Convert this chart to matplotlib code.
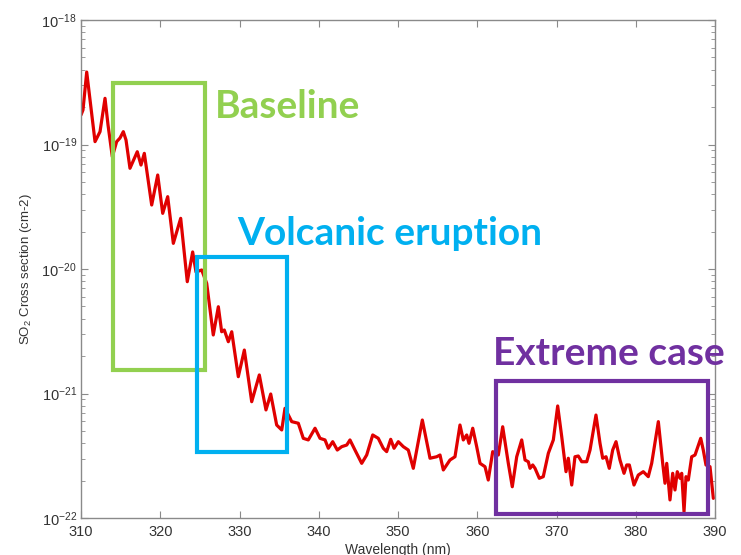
import numpy as np
import matplotlib.pyplot as plt
from matplotlib.patches import Rectangle
from matplotlib.ticker import LogLocator, FixedLocator

plt.rcParams['font.family'] = ['Liberation Sans', 'DejaVu Sans']
plt.rcParams['mathtext.default'] = 'regular'

# SO2 absorption cross section, wavelength (nm) and log10(sigma)
wavelength = [
    310.00, 310.25, 310.72, 311.14, 311.77, 312.40, 313.03, 313.41, 313.95, 314.50,
    314.92, 315.34, 315.68, 316.18, 317.10, 317.57, 317.99, 318.92, 319.68, 320.31,
    320.94, 321.65, 322.58, 323.41, 324.09, 324.51, 325.23, 325.86, 326.69, 327.33,
    327.75, 328.08, 328.59, 329.02, 329.85, 330.61, 331.54, 332.50, 333.34, 333.94,
    334.69, 335.33, 335.74, 336.59, 337.42, 338.05, 338.68, 339.53, 340.16, 340.79,
    341.21, 341.76, 342.34, 342.90, 343.53, 343.94, 344.57, 345.42, 346.05, 346.81,
    347.51, 348.14, 348.57, 349.08, 349.50, 350.04, 350.67, 351.30, 351.93, 353.07,
    354.04, 354.88, 355.30, 355.72, 356.56, 357.19, 357.82, 358.24, 358.67, 358.96,
    359.43, 359.93, 360.35, 360.98, 361.39, 361.95, 362.66, 363.21, 363.92, 364.42,
    364.98, 365.61, 366.03, 366.44, 366.66, 367.00, 367.29, 367.83, 368.33, 368.97,
    369.60, 370.15, 370.66, 371.20, 371.49, 371.92, 372.33, 372.75, 373.18, 373.81,
    374.23, 374.98, 375.49, 375.83, 376.25, 376.66, 377.09, 377.51, 378.01, 378.52,
    378.86, 379.19, 379.78, 380.32, 380.95, 381.58, 382.01, 382.85, 383.40, 383.69,
    383.91, 384.32, 384.66, 384.95, 385.24, 385.58, 385.80, 386.09, 386.34, 386.63,
    387.06, 387.48, 388.20, 388.52, 388.86, 389.37, 389.79,
]
log_sigma = [
    -18.763, -18.723, -18.418, -18.643, -18.977, -18.897, -18.629, -18.843, -19.098, -18.977,
    -18.948, -18.897, -18.964, -19.191, -19.058, -19.165, -19.071, -19.486, -19.245, -19.553,
    -19.419, -19.794, -19.593, -20.102, -19.863, -20.024, -20.008, -20.115, -20.530, -20.303,
    -20.504, -20.490, -20.584, -20.504, -20.865, -20.651, -21.066, -20.851, -21.132, -21.004,
    -21.253, -21.293, -21.119, -21.226, -21.239, -21.360, -21.373, -21.279, -21.360, -21.373,
    -21.440, -21.387, -21.454, -21.427, -21.414, -21.373, -21.454, -21.561, -21.494, -21.333,
    -21.360, -21.440, -21.467, -21.368, -21.440, -21.387, -21.427, -21.454, -21.601, -21.213,
    -21.520, -21.508, -21.494, -21.614, -21.534, -21.508, -21.253, -21.373, -21.333, -21.400,
    -21.279, -21.427, -21.561, -21.588, -21.695, -21.467, -21.494, -21.267, -21.561, -21.749,
    -21.508, -21.373, -21.534, -21.548, -21.601, -21.574, -21.601, -21.681, -21.668, -21.480,
    -21.373, -21.100, -21.347, -21.628, -21.520, -21.735, -21.508, -21.502, -21.548, -21.548,
    -21.454, -21.173, -21.400, -21.520, -21.508, -21.601, -21.454, -21.387, -21.534, -21.641,
    -21.574, -21.574, -21.735, -21.655, -21.628, -21.668, -21.561, -21.226, -21.561, -21.721,
    -21.561, -21.855, -21.641, -21.775, -21.628, -21.681, -21.641, -21.949, -21.668, -21.695,
    -21.508, -21.494, -21.360, -21.454, -21.574, -21.588, -21.842,
]

x_ticks = [310, 320, 330, 340, 350, 360, 370, 380, 390]

# highlighted regions: (label, colour, x0, x1, log y0, log y1)
regions = [
    ('Baseline', '#92D050', 314.08, 325.65, -20.811, -18.504),
    ('Volcanic eruption', '#00B0F0', 324.68, 336.03, -21.467, -19.901),
    ('Extreme case', '#7030A0', 362.37, 389.15, -21.968, -20.897),
]

fig = plt.figure(figsize=(7.41, 5.55), dpi=100)
ax = fig.add_axes([81 / 741, 1 - 518 / 555, 634 / 741, 498 / 555])

sigma = 10.0 ** np.array(log_sigma)
ax.plot(wavelength, sigma, color='#e00000', lw=2.3,
        solid_joinstyle='round', solid_capstyle='round')

ax.set_yscale('log')
ax.set_xlim(310, 390)
ax.set_ylim(1e-22, 1e-18)
ax.xaxis.set_major_locator(FixedLocator(x_ticks))
ax.yaxis.set_major_locator(LogLocator(base=10, numticks=10))
ax.yaxis.set_minor_locator(LogLocator(base=10, subs=np.arange(2, 10), numticks=20))

axis_gray = '#8a8a8a'
for sp in ax.spines.values():
    sp.set_color(axis_gray)
    sp.set_linewidth(1.0)
ax.tick_params(which='both', direction='in', top=True, right=True,
               color=axis_gray, labelcolor='#333333', labelsize=10.5)
ax.tick_params(which='major', length=5, pad=5)
ax.tick_params(axis='y', which='major', pad=3)
ax.tick_params(which='minor', length=3)

ax.set_xlabel('Wavelength (nm)', fontsize=10, color='#333333', labelpad=3)
ax.set_ylabel('SO$_2$ Cross section (cm-2)', fontsize=9.5, color='#333333')
ax.yaxis.set_label_coords(-0.074, 0.5)

text_pos = [(215, 118), (237, 245), (493, 365)]
for (label, col, x0, x1, y0, y1), (tx, ty) in zip(regions, text_pos):
    ax.add_patch(Rectangle((x0, 10 ** y0), x1 - x0, 10 ** y1 - 10 ** y0,
                           fill=False, edgecolor=col, lw=3.0, joinstyle='miter',
                           clip_on=False, zorder=5))
    fig.text(tx / 741, 1 - ty / 555, label, color=col, fontsize=28,
             fontweight='bold', family=['Lato', 'DejaVu Sans'],
             ha='left', va='baseline')

fig.savefig('out.png', dpi=100)
